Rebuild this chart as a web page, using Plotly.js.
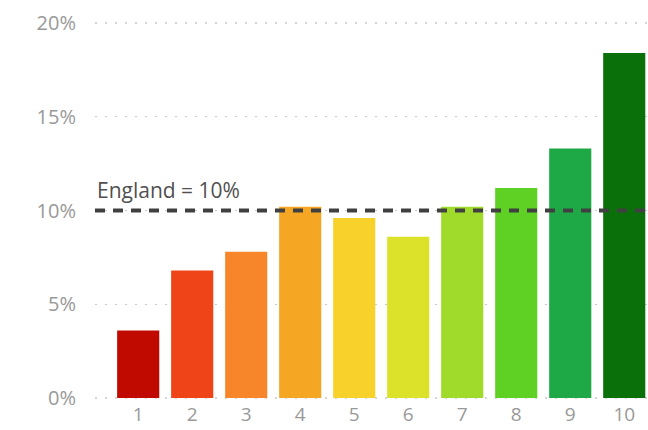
<!DOCTYPE html>
<html><head><meta charset="utf-8">
<script src="https://cdn.plot.ly/plotly-3.0.1.min.js"></script>
<style>html,body{margin:0;padding:0;background:#fff}</style>
</head><body><div id="chart" style="width:648px;height:430px"></div>
<script>
const categories = ["1","2","3","4","5","6","7","8","9","10"];
const values = [3.6, 6.8, 7.8, 10.2, 9.6, 8.6, 10.2, 11.2, 13.3, 18.4];
const barColors = ["#c00a00","#ee4418","#f7862a","#f5a623","#f8d12a","#dce22a","#a0da2a","#5fd124","#1ea846","#0a700a"];
const englandValue = 10;
const englandLabel = "England = 10%";
const yTickVals = [0,5,10,15,20];
const yTickText = ["0%","5%","10%","15%","20%"];

const gridStyle = {color: "#c8c8c8", width: 1.5, dash: "2px,8px"};
const edgeGrid = [yTickVals[0], yTickVals[yTickVals.length - 1]].map(v => ({
  type: "line", xref: "paper", x0: 0, x1: 1, yref: "y", y0: v, y1: v, line: gridStyle, layer: "below"
}));

const data = [{
  type: "bar",
  x: categories,
  y: values,
  marker: {color: barColors},
  hoverinfo: "none"
}];
const layout = {
  width: 648, height: 430,
  margin: {l: 95, r: 0, t: 22, b: 31},
  paper_bgcolor: "#fff", plot_bgcolor: "#fff",
  bargap: 0.22,
  showlegend: false,
  font: {family: "Open Sans, sans-serif", color: "#999", size: 19},
  xaxis: {type: "category", range: [-0.8, 9.44], showgrid: false, zeroline: false, showline: false,
          ticks: "", ticklabelstandoff: 2, tickfont: {size: 19, color: "#999"}},
  yaxis: {range: [-0.05, 20.05], tickvals: yTickVals, ticktext: yTickText, showgrid: true,
          gridcolor: gridStyle.color, griddash: gridStyle.dash, gridwidth: gridStyle.width, zeroline: false, showline: false,
          ticks: "", ticklabelstandoff: 18, tickfont: {size: 20, color: "#999"}},
  shapes: edgeGrid.concat([{type: "line", xref: "paper", x0: 0, x1: 1, yref: "y", y0: englandValue, y1: englandValue,
            line: {color: "#404040", width: 4, dash: "10px,8px"}, layer: "above"}]),
  annotations: [{xref: "paper", x: 0, yref: "y", y: englandValue, text: englandLabel, showarrow: false,
                 xanchor: "left", yanchor: "bottom", yshift: 5, font: {size: 21, color: "#505050"}}]
};
Plotly.newPlot("chart", data, layout, {displayModeBar: false, staticPlot: true});
</script></body></html>
